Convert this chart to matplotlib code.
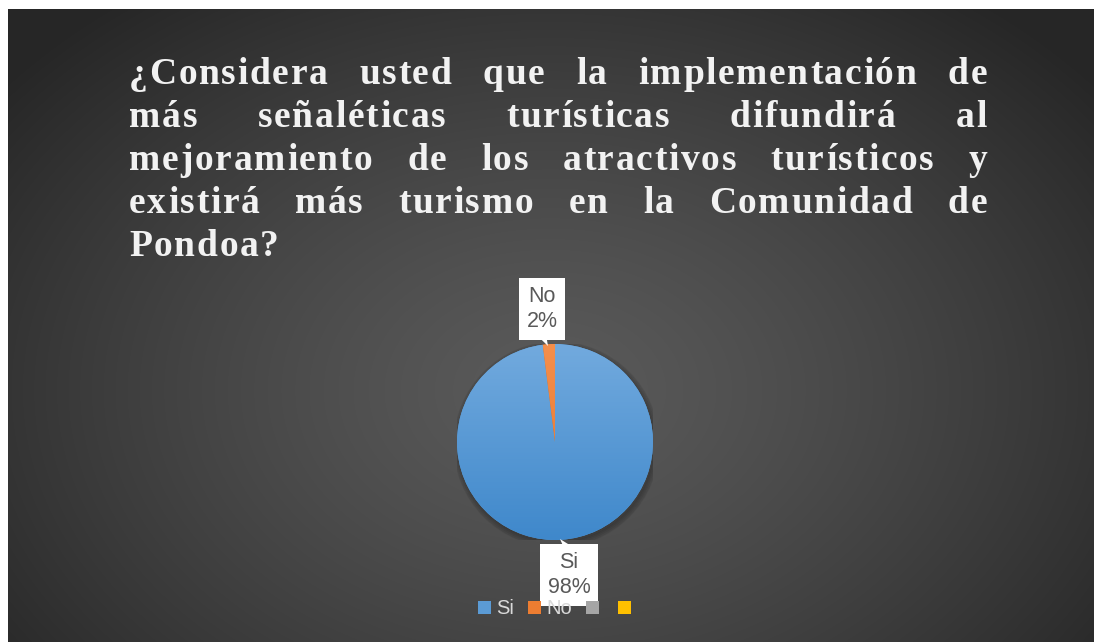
import numpy as np
import matplotlib
matplotlib.use("Agg")
import matplotlib.pyplot as plt
from matplotlib import font_manager, ft2font
from matplotlib.font_manager import FontProperties
from matplotlib.patches import Patch, Circle

# Data
categories = ['Si', 'No']
values = [98, 2]
slice_colors = ['#5b9bd5', '#ed7d31']
legend_labels = ['Si', 'No', '', '']
legend_colors = ['#5b9bd5', '#ed7d31', '#a5a5a5', '#ffc000']
title_lines = [
    "¿Considera usted que la implementación de",
    "más señaléticas turísticas difundirá al",
    "mejoramiento de los atractivos turísticos y",
    "existirá más turismo en la Comunidad de",
    "Pondoa?",
]

W, H = 1096, 642
fig = plt.figure(figsize=(W / 100, H / 100), dpi=100, facecolor='white')


def px(x, y):
    # image pixel coords -> figure fraction
    return x / W, 1 - y / H


# Background with radial gradient
bx0, by0, bx1, by1 = 8, 9, 1094, 642
bg = fig.add_axes([bx0 / W, 1 - by1 / H, (bx1 - bx0) / W, (by1 - by0) / H])
yy, xx = np.mgrid[by0:by1, bx0:bx1]
r = np.sqrt(((xx - 550) / 700.0) ** 2 + ((yy - 390) / 500.0) ** 2)
r = np.clip(r, 0, 1) ** 1.3
shade = (0x5a - (0x5a - 0x26) * r) / 255.0
bg.imshow(np.dstack([shade, shade, shade]), aspect='auto', interpolation='bilinear')
bg.set_axis_off()

# Title: bold serif, letter-spaced, justified
fsize = 27
font = ft2font.FT2Font(font_manager.findfont(
    FontProperties(family='Liberation Serif', weight='bold')))
font.set_size(fsize, 100)
spacing = 1.7


def adv(c):
    return font.load_char(ord(c)).linearHoriAdvance / 65536.0


left, right = 129, 987
baselines = [84, 127, 170, 213, 256]
for i, line in enumerate(title_lines):
    words = line.split(' ')
    widths = [sum(adv(c) for c in w) + spacing * (len(w) - 1) for w in words]
    if i < len(title_lines) - 1 and len(words) > 1:
        gap = (right - left - sum(widths)) / (len(words) - 1)
    else:
        gap = adv(' ') + spacing
    x = left
    for w, ww in zip(words, widths):
        cx = x
        for c in w:
            fx, fy = px(cx, baselines[i])
            fig.text(fx, fy, c, family='Liberation Serif', weight='bold', fontsize=fsize,
                     color='#f2f2f2', ha='left', va='baseline')
            cx += adv(c) + spacing
        x += ww + gap

# Pie
cx, cy, rad = 555, 442, 98
ax = fig.add_axes([(cx - rad) / W, 1 - (cy + rad) / H, 2 * rad / W, 2 * rad / H])
for k in range(4):
    ax.add_patch(Circle((0.015, -0.025), 1.0 + 0.015 * k, color='black', alpha=0.06, zorder=0))
wedges, _ = ax.pie(values, colors=slice_colors, startangle=90, counterclock=False,
                   radius=1, wedgeprops=dict(linewidth=0))
grads = [('#72aade', '#3f88cb'), ('#f58f4c', '#e0712a')]
for wdg, (c_top, c_bot) in zip(wedges, grads):
    t = np.linspace(0, 1, 256)[:, None]
    ct = np.array(matplotlib.colors.to_rgb(c_top))
    cb = np.array(matplotlib.colors.to_rgb(c_bot))
    img = (ct[None, None, :] * (1 - t[..., None]) + cb[None, None, :] * t[..., None])
    img = np.repeat(img, 2, axis=1)
    im = ax.imshow(img, extent=[-1, 1, -1, 1], aspect='auto', zorder=2)
    im.set_clip_path(wdg)
ax.set_xlim(-1, 1)
ax.set_ylim(-1, 1)
ax.set_axis_off()

# Data labels with callouts
label_pos = {'No': (542, 309), 'Si': (569, 575)}
point_to = {'No': (548, 346), 'Si': (560, 539)}
total = sum(values)
for cat, v in zip(categories, values):
    tx, ty = px(*label_pos[cat])
    ex, ey = px(*point_to[cat])
    fig.text(tx, ty, f"{cat}\n{round(100 * v / total)}%", ha='center', va='center',
             fontsize=15.5, family='Liberation Sans', color='#595959', linespacing=1.25,
             bbox=dict(boxstyle='square,pad=0.35', fc='white', ec='none'), zorder=5)
    ax.annotate('', xy=(ex, ey), xycoords='figure fraction',
                xytext=(tx, ty + (-0.04 if cat == 'No' else 0.04)), textcoords='figure fraction',
                arrowprops=dict(arrowstyle='wedge,tail_width=0.6', fc='white', ec='none',
                                shrinkA=0, shrinkB=0), zorder=4, annotation_clip=False)

# Legend
handles = [Patch(facecolor=c, edgecolor='none') for c in legend_colors]
lx, ly = px(557, 609)
fig.legend(handles, legend_labels, loc='center', bbox_to_anchor=(lx, ly), ncol=4,
           frameon=False, prop=dict(family='Liberation Sans', size=14.5),
           labelcolor='#d9d9d9', handlelength=0.65, handleheight=0.65,
           handletextpad=0.25, columnspacing=0.7, borderpad=0)

fig.savefig('out.png', dpi=100, facecolor='white')
